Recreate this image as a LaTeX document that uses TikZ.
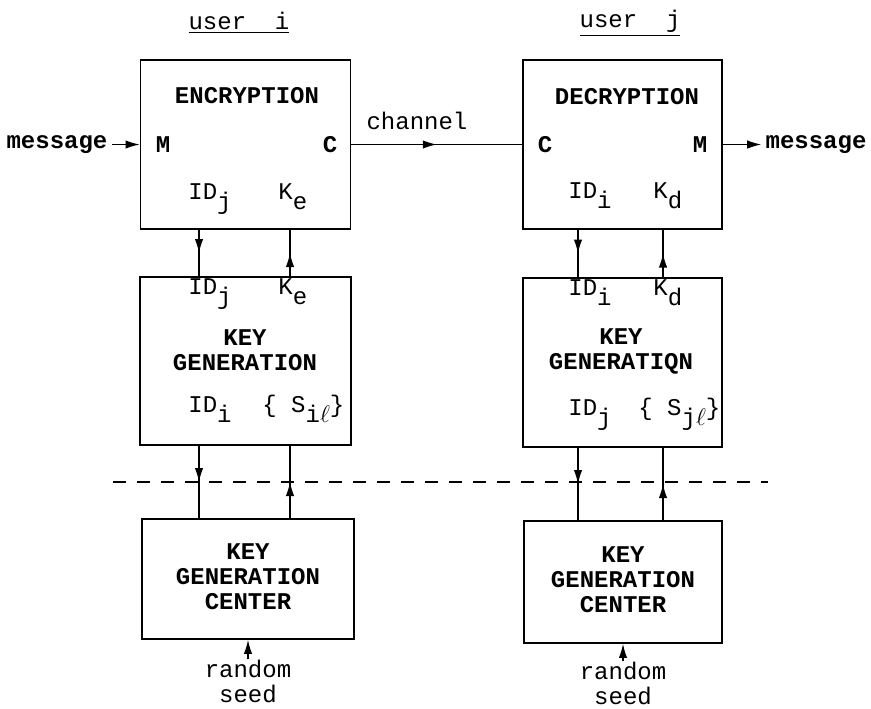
\documentclass[tikz,border=0pt]{standalone}
\usepackage{fontspec}
\setmonofont{Liberation Mono}
\usetikzlibrary{arrows.meta,decorations.markings}

\tikzset{
  blk/.style={draw, line width=0.9pt, inner sep=0pt},
  lbl/.style={font=\ttfamily\fontsize{12}{12.5}\selectfont, inner sep=0pt, align=center},
  blbl/.style={lbl, font=\ttfamily\bfseries\fontsize{12}{12.5}\selectfont},
  midarrow/.style={line width=0.6pt, postaction={decorate},
    decoration={markings, mark=at position 0.5 with {\arrow{Latex[length=7pt,width=4.2pt]}}}},
  tip/.style={line width=0.6pt, -{Latex[length=7pt,width=4.2pt]}},
  cut/.style={line width=0.7pt, dash pattern=on 6.5pt off 5.5pt},
}
\newcommand{\lo}[1]{\raisebox{-0.8ex}{#1}}

\begin{document}
\begin{tikzpicture}[x=0.5pt, y=-0.5pt]
  \useasboundingbox (0,0) rectangle (871,708);

  % users
  \node[lbl] (ui) at (239,23) {\underline{user\ \ i}};
  \node[lbl] (uj) at (630,23) {\underline{user\ \ j}};

  % boxes
  \node[blk, minimum width=105pt, minimum height=84.5pt] (enc) at (245.5,144.5) {};
  \node[blk, minimum width=99.5pt, minimum height=84.5pt] (dec) at (622.5,144.5) {};
  \node[blk, minimum width=105.5pt, minimum height=84pt] (kgi) at (245.5,361) {};
  \node[blk, minimum width=99.5pt, minimum height=84.5pt] (kgj) at (622.5,362.5) {};
  \node[blk, minimum width=106pt, minimum height=60pt] (kci) at (248,579) {};
  \node[blk, minimum width=99pt, minimum height=61pt] (kcj) at (623,582) {};

  % encryption
  \node[blbl] (enct) at (247,96) {ENCRYPTION};
  \node[blbl] (encm) at (163,145) {M};
  \node[blbl] (encc) at (330,145) {C};
  \node[lbl, anchor=base west] (encid) at (188,199) {ID\lo{j}};
  \node[lbl, anchor=base west] (enck) at (278,199) {K\lo{e}};

  % decryption
  \node[blbl] (dect) at (627,97) {DECRYPTION};
  \node[blbl] (decc) at (545,145) {C};
  \node[blbl] (decm) at (700,145) {M};
  \node[lbl, anchor=base west] (decid) at (568,198) {ID\lo{i}};
  \node[lbl, anchor=base west] (deck) at (653,198) {K\lo{d}};

  % key generation
  \node[blbl] (kgit) at (245,350) {KEY\\GENERATION};
  \node[lbl, anchor=base west] (kgiid) at (188,294) {ID\lo{j}};
  \node[lbl, anchor=base west] (kgik) at (278,294) {K\lo{e}};
  \node[lbl, anchor=base west] (kgiidi) at (188,412) {ID\lo{i}};
  \node[lbl, anchor=base west] (kgis) at (262,412) {\{ S\lo{i$\ell$}\}};

  \node[blbl] (kgjt) at (621,351) {KEY\\GENERATIQN};
  \node[lbl, anchor=base west] (kgjid) at (568,295) {ID\lo{i}};
  \node[lbl, anchor=base west] (kgjk) at (653,295) {K\lo{d}};
  \node[lbl, anchor=base west] (kgjidj) at (568,415) {ID\lo{j}};
  \node[lbl, anchor=base west] (kgjs) at (638,415) {\{ S\lo{j$\ell$}\}};

  % key generation centers
  \node[blbl] (kcit) at (248,577) {KEY\\GENERATION\\CENTER};
  \node[blbl] (kcjt) at (623,580) {KEY\\GENERATION\\CENTER};
  \node[lbl] (rsi) at (248,681) {random\\seed};
  \node[lbl] (rsj) at (623,683) {random\\seed};

  % messages and channel
  \node[blbl] (msgi) at (57,144.5) {message};
  \node[blbl] (msgj) at (816,144.5) {message};
  \node[lbl] (chan) at (417,121) {channel};

  \draw[tip, shorten <=2pt] (msgi.east) -- (enc.west);
  \draw[tip, shorten >=2pt] (dec.east) -- (msgj.west);
  \draw[midarrow] (enc.east) -- (dec.west);

  % vertical links
  \coordinate (ai) at (199,0);
  \coordinate (bi) at (290,0);
  \coordinate (aj) at (578,0);
  \coordinate (bj) at (663,0);

  \draw[midarrow] (enc.south -| ai) -- (kgi.north -| ai);
  \draw[midarrow] (kgi.north -| bi) -- (enc.south -| bi);
  \draw[midarrow] (kgi.south -| ai) -- (kci.north -| ai);
  \draw[midarrow] (kci.north -| bi) -- (kgi.south -| bi);

  \draw[midarrow] (dec.south -| aj) -- (kgj.north -| aj);
  \draw[midarrow] (kgj.north -| bj) -- (dec.south -| bj);
  \draw[midarrow] (kgj.south -| aj) -- (kcj.north -| aj);
  \draw[midarrow] (kcj.north -| bj) -- (kgj.south -| bj);

  \draw[tip] (rsi.north) -- (kci.south);
  \draw[tip] (rsj.north) -- (kcj.south);

  % dashed boundary
  \coordinate (dl) at (113,482);
  \coordinate (dr) at (768,482);
  \draw[cut] (dl) -- (dr);
\end{tikzpicture}
\end{document}
